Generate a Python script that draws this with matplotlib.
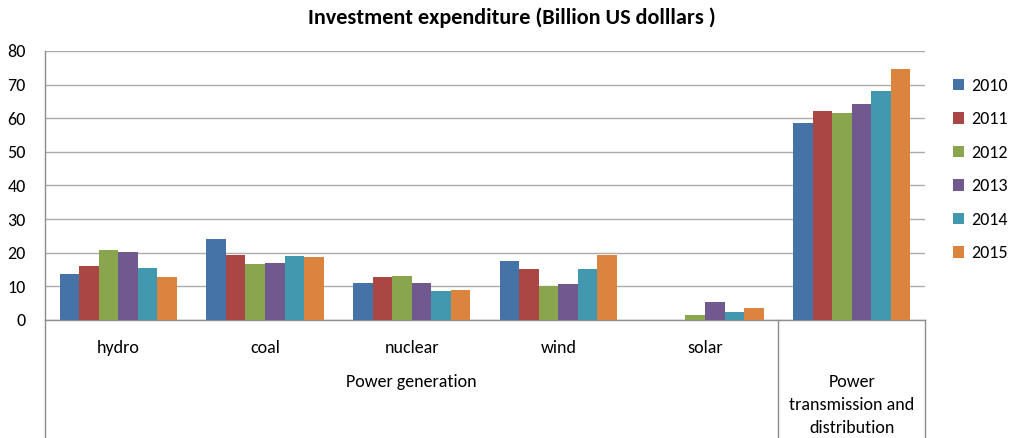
import matplotlib
matplotlib.use("Agg")
import matplotlib.pyplot as plt
from matplotlib import font_manager
from matplotlib.patches import Patch
import numpy as np

avail = {f.name for f in font_manager.fontManager.ttflist}
fam = [f for f in ["Carlito", "Lato", "DejaVu Sans"] if f in avail]
plt.rcParams['font.family'] = fam

categories = ["hydro", "coal", "nuclear", "wind", "solar", "Power\ntransmission and\ndistribution"]
groups = ["Power generation"]
years = ["2010", "2011", "2012", "2013", "2014", "2015"]
v2010 = [13.8, 24.1, 11.1, 17.6, 0.0, 58.6]
v2011 = [16.2, 19.2, 12.9, 15.2, 0.0, 62.1]
v2012 = [20.8, 16.8, 13.2, 10.2, 1.6, 61.5]
v2013 = [20.3, 17.1, 11.1, 10.8, 5.5, 64.3]
v2014 = [15.6, 18.9, 8.7, 15.2, 2.5, 68.1]
v2015 = [12.7, 18.6, 9.0, 19.2, 3.5, 74.5]
series = [v2010, v2011, v2012, v2013, v2014, v2015]
colors = ["#4572A7", "#AA4643", "#89A54E", "#71588F", "#4198AF", "#DB843D"]
yticks = [0, 10, 20, 30, 40, 50, 60, 70, 80]

W, H = 1013, 438
fig = plt.figure(figsize=(W / 100, H / 100), dpi=100)
L, R, T, B = 45, 925, 51, 320
ax = fig.add_axes([L / W, 1 - B / H, (R - L) / W, (B - T) / H])

n = len(categories)
x = np.arange(n) + 0.5
bw = 0.8 / len(series)
for i, (vals, c, yr) in enumerate(zip(series, colors, years)):
    ax.bar(x - 0.4 + bw * (i + 0.5), vals, width=bw, color=c, edgecolor='none', label=yr, zorder=3)

ax.set_xlim(0, n)
ax.set_ylim(0, 80)
ax.set_yticks(yticks)
ax.set_yticklabels([str(t) for t in yticks], fontsize=13)
ax.tick_params(axis='y', length=0, pad=14)
ax.set_xticks([])
ax.grid(axis='y', color='#ABABAB', linewidth=1.0, zorder=0)
ax.set_axisbelow(True)
for s in ['top', 'right']:
    ax.spines[s].set_visible(False)
for s in ['left', 'bottom']:
    ax.spines[s].set_color('#8C8C8C')
    ax.spines[s].set_linewidth(1.0)

# category axis lines below plot
ph = B - T
def yfrac(py):
    return -(py - B) / ph
tr = ax.get_xaxis_transform()
for xv in [0, 5, 6]:
    ax.plot([xv, xv], [0, yfrac(H + 5)], transform=tr, color='#8C8C8C', lw=1.0, clip_on=False)

for xi, cat in zip(x[:5], categories[:5]):
    ax.text(xi, yfrac(348), cat, transform=tr, ha='center', va='center', fontsize=13, color='#000000')
ax.text(2.5, yfrac(382), groups[0], transform=tr, ha='center', va='center', fontsize=13)
for k, line in enumerate(categories[5].split("\n")):
    ax.text(x[5], yfrac(382 + 23 * k), line, transform=tr, ha='center', va='center', fontsize=13)

fig.text(512 / W, 1 - 18 / H, "Investment expenditure (Billion US dolllars )", ha='center', va='center',
         fontsize=16, fontweight='bold')

handles = [Patch(facecolor=c, edgecolor='none') for c in colors]
fig.legend(handles, years, loc='center left', bbox_to_anchor=(953 / W, 1 - 169.5 / H), frameon=False,
           fontsize=13, handlelength=0.6, handleheight=0.6, handletextpad=0.4, labelspacing=0.97,
           borderpad=0, borderaxespad=0)

fig.savefig("out.png", dpi=100)
